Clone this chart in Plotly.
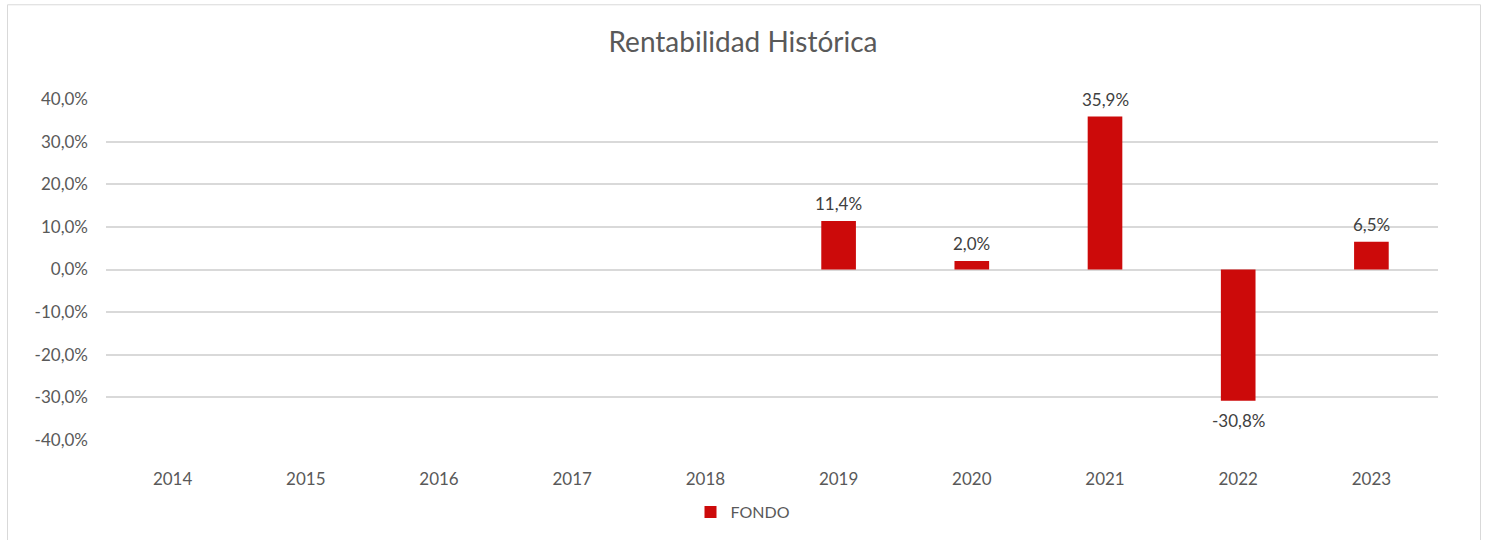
import plotly.graph_objects as go

years = ["2014", "2015", "2016", "2017", "2018", "2019", "2020", "2021", "2022", "2023"]
fondo = [None, None, None, None, None, 0.114, 0.020, 0.359, -0.308, 0.065]
y_ticks = [-0.4, -0.3, -0.2, -0.1, 0.0, 0.1, 0.2, 0.3, 0.4]


def pct(v):
    return f"{v * 100:.1f}%".replace(".", ",")


y_ticktext = [pct(v) for v in y_ticks]

FONT = "Lato"
TXT = "#595959"
RED = "#CC0A0A"
GRID = "#D9D9D9"

W, H = 1486, 540
# plot area in screen coordinates
L, R, T, B = 106, 1438, 99, 441
pw, ph = R - L, B - T


def px(xs):
    return (xs - L) / pw


def py(ys):
    return (B - ys) / ph


fig = go.Figure()
fig.add_trace(go.Bar(
    x=years, y=fondo, name="FONDO",
    marker=dict(color=RED, line=dict(width=0)),
    cliponaxis=False, hoverinfo="x+y",
))

annotations = []
for i, v in enumerate(fondo):
    if v is None:
        continue
    annotations.append(dict(
        x=i, y=v, xref="x", yref="y", text=pct(v), showarrow=False,
        xanchor="center", yanchor="middle", yshift=17 if v >= 0 else -20,
        font=dict(family=FONT, size=17, color="#404040"),
    ))

fig.update_layout(
    width=W, height=H,
    margin=dict(l=L, r=W - R, t=T, b=H - B),
    paper_bgcolor="white", plot_bgcolor="white",
    bargap=0.74,
    font=dict(family=FONT, color=TXT, size=17),
    title=dict(text="Rentabilidad Histórica", x=px(743), xref="paper", xanchor="center",
               y=1 - 42 / H, yanchor="middle", font=dict(family=FONT, size=28, color=TXT)),
    showlegend=True,
    legend=dict(orientation="h", x=px(743), xanchor="center", y=py(512), yanchor="middle",
                font=dict(family=FONT, size=16, color=TXT), itemwidth=30),
    xaxis=dict(type="category", categoryorder="array", categoryarray=years,
               range=[-0.5, len(years) - 0.5],
               showgrid=False, showline=False, ticks="",
               ticklabelstandoff=27, tickfont=dict(family=FONT, size=17, color=TXT)),
    yaxis=dict(range=[-0.4, 0.4], tickvals=y_ticks, ticktext=y_ticktext,
               showgrid=True, gridcolor=GRID, gridwidth=1.5,
               zeroline=True, zerolinecolor=GRID, zerolinewidth=1.5,
               showline=False, ticks="", ticklabelstandoff=17,
               tickfont=dict(family=FONT, size=17, color=TXT)),
    annotations=annotations,
    shapes=[dict(type="rect", xref="paper", yref="paper",
                 x0=px(7.5), x1=px(1480.5), y0=py(600), y1=py(4.5),
                 line=dict(color="#D9D9D9", width=1), fillcolor="rgba(0,0,0,0)", layer="below")],
)

fig.write_html("out.html", config={"displayModeBar": False},
               post_script="document.body.style.margin='0';")
